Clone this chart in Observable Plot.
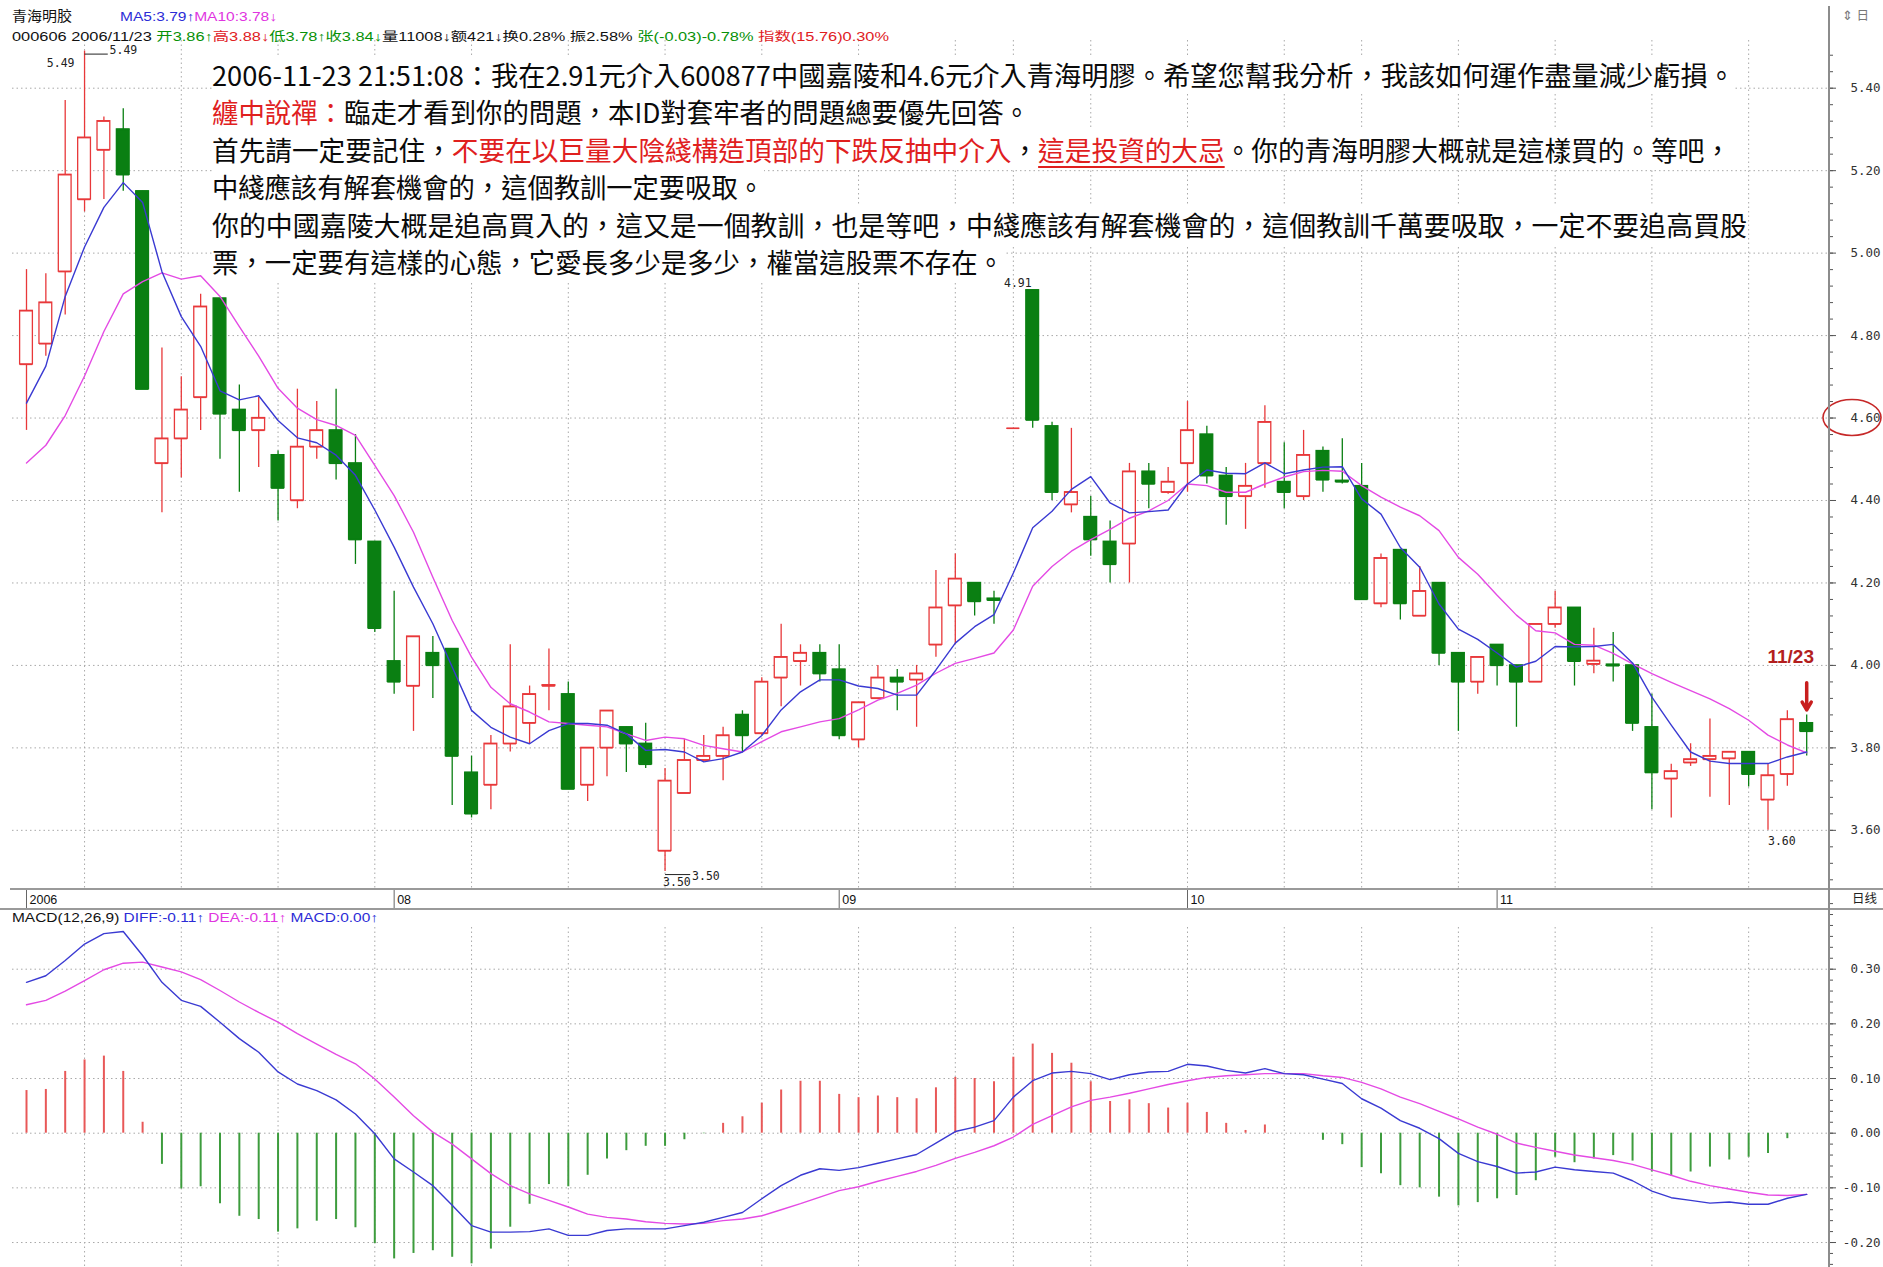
<!DOCTYPE html>
<html>
<head>
<meta charset="utf-8">
<script src="https://cdn.jsdelivr.net/npm/d3@7"></script>
<script src="https://cdn.jsdelivr.net/npm/@observablehq/plot@0.6"></script>
<style>
  html, body { margin:0; padding:0; background:#fff; }
  #root { position:relative; width:1883px; height:1267px; overflow:hidden; background:#fff; }
  .abs { position:absolute; white-space:nowrap; }
  .hdr { font-family:"Liberation Sans Narrow","Liberation Sans","Noto Sans CJK SC",sans-serif; font-size:12.5px; line-height:14px; transform-origin:0 50%; }
  .note { font-family:"Noto Sans CJK TC","Noto Sans CJK SC",sans-serif; font-size:27px; color:#0a0a0a; }
  .note div { height:37.6px; line-height:37.6px; white-space:nowrap; transform-origin:0 50%; width:max-content; }
  .note div span.bg { background:#fff; }
  .r { color:#e0201e; }
  .u { text-decoration:underline; text-underline-offset:5px; text-decoration-thickness:2px; }
  #root svg { position:absolute; left:0; }
</style>
</head>
<body>
<div id="root"></div>
<script>
// ---------- data ----------
const dateLabels = ["2006", "08", "09", "10", "11"];
const dateIndex  = [0, 19, 42, 60, 76];
const gridIndex  = [3, 8, 13, 18, 23, 28, 33, 38, 43, 48, 51, 55, 60, 65, 69, 74, 79, 84, 89];
const priceTicks = [3.6, 3.8, 4.0, 4.2, 4.4, 4.6, 4.8, 5.0, 5.2, 5.4];
const macdTicks  = [-0.2, -0.1, 0, 0.1, 0.2, 0.3];

const open = [4.73,4.78,4.955,5.13,5.25,5.30,5.15,4.49,4.55,4.65,
  4.89,4.62,4.57,4.51,4.40,4.53,4.57,4.49,4.30,4.01,
  3.95,4.03,4.04,3.74,3.71,3.81,3.86,3.95,3.93,3.71,
  3.80,3.85,3.81,3.55,3.69,3.77,3.78,3.88,3.835,3.97,
  4.01,4.03,3.99,3.82,3.92,3.97,3.965,4.05,4.145,4.20,
  4.162,4.575,4.91,4.58,4.39,4.36,4.30,4.295,4.47,4.42,
  4.49,4.56,4.46,4.41,4.49,4.445,4.41,4.52,4.448,4.435,
  4.15,4.28,4.12,4.20,4.03,3.96,4.05,4.00,3.96,4.10,
  4.14,4.003,4.002,4.00,3.85,3.725,3.764,3.772,3.774,3.79,
  3.674,3.736,3.86];
const high = [4.96,4.95,5.37,5.49,5.33,5.35,5.15,4.77,4.70,4.90,
  4.89,4.68,4.65,4.52,4.67,4.64,4.67,4.56,4.30,4.18,
  4.07,4.07,4.04,3.78,3.83,4.05,3.95,4.04,3.96,3.80,
  3.89,3.85,3.86,3.75,3.82,3.83,3.85,3.89,3.97,4.10,
  4.05,4.05,4.05,3.91,4.00,3.99,4.00,4.23,4.27,4.20,
  4.18,4.575,4.91,4.59,4.575,4.41,4.35,4.49,4.49,4.48,
  4.64,4.58,4.48,4.49,4.63,4.54,4.57,4.53,4.55,4.49,
  4.27,4.28,4.24,4.20,4.03,4.02,4.05,4.00,4.10,4.18,
  4.14,4.09,4.08,4.00,3.93,3.76,3.81,3.87,3.79,3.79,
  3.76,3.89,3.88];
const low = [4.57,4.75,4.85,5.10,5.13,5.15,4.67,4.37,4.455,4.57,
  4.50,4.42,4.48,4.35,4.38,4.50,4.45,4.245,4.08,3.93,
  3.84,3.92,3.66,3.63,3.65,3.79,3.81,3.89,3.70,3.67,
  3.73,3.74,3.75,3.50,3.69,3.77,3.72,3.79,3.83,3.90,
  3.95,3.96,3.82,3.80,3.92,3.89,3.85,4.02,4.05,4.12,
  4.10,4.575,4.575,4.40,4.37,4.265,4.20,4.20,4.38,4.415,
  4.42,4.44,4.34,4.33,4.43,4.38,4.40,4.42,4.44,4.16,
  4.14,4.11,4.12,4.00,3.84,3.93,3.95,3.85,3.96,4.09,
  3.95,3.98,3.96,3.84,3.65,3.63,3.755,3.68,3.66,3.705,
  3.60,3.707,3.78];
const close = [4.86,4.88,5.19,5.28,5.32,5.19,4.67,4.55,4.62,4.87,
  4.61,4.57,4.60,4.43,4.53,4.57,4.49,4.305,4.09,3.96,
  4.07,4.00,3.78,3.64,3.81,3.90,3.93,3.952,3.70,3.80,
  3.89,3.81,3.76,3.72,3.77,3.78,3.83,3.83,3.96,4.02,
  4.03,3.98,3.83,3.91,3.97,3.96,3.98,4.14,4.21,4.155,
  4.158,4.575,4.595,4.42,4.42,4.305,4.245,4.47,4.44,4.445,
  4.57,4.46,4.41,4.435,4.59,4.42,4.51,4.45,4.445,4.16,
  4.26,4.15,4.18,4.03,3.96,4.02,4.00,3.96,4.10,4.14,
  4.01,4.011,3.999,3.86,3.74,3.743,3.772,3.78,3.79,3.736,
  3.733,3.869,3.84];
const ma5 = [4.636,4.726,4.895,5.015,5.111,5.171,5.123,4.955,4.846,4.774,
  4.666,4.644,4.654,4.594,4.552,4.540,4.510,4.461,4.377,4.287,
  4.190,4.101,3.996,3.891,3.850,3.826,3.810,3.842,3.859,3.859,
  3.855,3.834,3.794,3.796,3.790,3.766,3.774,3.790,3.830,3.892,
  3.936,3.965,3.965,3.950,3.944,3.928,3.928,3.989,4.054,4.094,
  4.123,4.224,4.334,4.374,4.427,4.458,4.394,4.370,4.373,4.377,
  4.440,4.474,4.466,4.465,4.491,4.465,4.474,4.481,4.482,4.404,
  4.367,4.286,4.238,4.149,4.088,4.063,4.030,3.996,4.010,4.046,
  4.045,4.046,4.051,4.006,3.923,3.855,3.790,3.768,3.762,3.762,
  3.762,3.778,3.790];
const ma10 = [4.491,4.534,4.606,4.702,4.810,4.901,4.931,4.952,4.937,4.945,
  4.895,4.822,4.750,4.672,4.624,4.596,4.582,4.558,4.485,4.412,
  4.323,4.214,4.109,4.020,3.947,3.907,3.887,3.863,3.859,3.855,
  3.851,3.834,3.818,3.826,3.822,3.806,3.798,3.790,3.815,3.839,
  3.851,3.863,3.871,3.892,3.916,3.932,3.952,3.981,4.005,4.017,
  4.030,4.086,4.192,4.240,4.277,4.305,4.330,4.357,4.375,4.400,
  4.440,4.436,4.420,4.420,4.440,4.457,4.470,4.473,4.471,4.436,
  4.408,4.384,4.363,4.327,4.262,4.221,4.170,4.122,4.084,4.079,
  4.051,4.049,4.029,4.004,3.980,3.959,3.939,3.919,3.895,3.867,
  3.831,3.807,3.788];
const diff = [0.276,0.288,0.316,0.346,0.365,0.369,0.325,0.276,0.243,0.232,
  0.203,0.173,0.148,0.112,0.090,0.078,0.061,0.035,-0.001,-0.047,
  -0.071,-0.096,-0.132,-0.169,-0.181,-0.181,-0.180,-0.175,-0.187,-0.187,
  -0.178,-0.175,-0.175,-0.175,-0.169,-0.163,-0.154,-0.145,-0.120,-0.096,
  -0.077,-0.065,-0.068,-0.063,-0.055,-0.047,-0.039,-0.018,0.003,0.011,
  0.023,0.066,0.096,0.110,0.113,0.109,0.098,0.107,0.112,0.113,
  0.126,0.123,0.115,0.110,0.118,0.109,0.107,0.099,0.091,0.063,
  0.046,0.023,0.009,-0.010,-0.037,-0.052,-0.061,-0.073,-0.071,-0.062,
  -0.067,-0.070,-0.073,-0.087,-0.106,-0.118,-0.123,-0.128,-0.126,-0.130,
  -0.130,-0.119,-0.112];
const dea = [0.235,0.243,0.260,0.279,0.299,0.311,0.313,0.304,0.295,0.281,
  0.261,0.240,0.221,0.203,0.182,0.163,0.144,0.127,0.099,0.066,
  0.032,0.002,-0.020,-0.047,-0.074,-0.096,-0.111,-0.123,-0.135,-0.148,
  -0.154,-0.157,-0.162,-0.165,-0.166,-0.165,-0.160,-0.157,-0.151,-0.140,
  -0.129,-0.117,-0.105,-0.098,-0.088,-0.079,-0.070,-0.059,-0.046,-0.035,
  -0.023,-0.007,0.016,0.032,0.048,0.060,0.066,0.073,0.081,0.089,
  0.096,0.102,0.105,0.107,0.109,0.109,0.109,0.105,0.102,0.093,
  0.081,0.066,0.054,0.040,0.026,0.011,-0.002,-0.018,-0.026,-0.033,
  -0.040,-0.045,-0.050,-0.057,-0.067,-0.077,-0.088,-0.096,-0.102,-0.108,
  -0.113,-0.114,-0.112];
const macd = [0.078,0.080,0.113,0.134,0.141,0.113,0.020,-0.057,-0.102,-0.098,
  -0.129,-0.152,-0.158,-0.181,-0.175,-0.161,-0.158,-0.173,-0.202,-0.230,
  -0.220,-0.215,-0.227,-0.239,-0.212,-0.172,-0.130,-0.094,-0.098,-0.077,
  -0.047,-0.032,-0.024,-0.024,-0.012,-0.001,0.018,0.030,0.055,0.079,
  0.095,0.095,0.071,0.065,0.068,0.065,0.063,0.083,0.102,0.100,
  0.094,0.139,0.163,0.146,0.128,0.094,0.058,0.061,0.054,0.046,
  0.055,0.038,0.018,0.005,0.015,0.000,0.000,-0.013,-0.021,-0.063,
  -0.074,-0.096,-0.100,-0.117,-0.133,-0.127,-0.120,-0.114,-0.087,-0.044,
  -0.054,-0.047,-0.041,-0.051,-0.071,-0.079,-0.071,-0.062,-0.049,-0.044,
  -0.037,-0.010,0.000];

// ---------- styles ----------
const RED = "#e8383a", GREEN = "#0a7f12", BLUE = "#3a3ad2", MAG = "#e44ae4";
const BAR_RED = "#e85858", BAR_GREEN = "#3d9c3d", GRID = "#a9a9a9", AXIS = "#555";
const MONO = "DejaVu Sans Mono";

const root = document.getElementById("root");
const N = close.length;
const idx = d3.range(N);
const X0 = 26, STEP = 19.35;
const xOpt = {type: "linear", domain: [0, N - 1], range: [X0, X0 + STEP * (N - 1)], axis: null};
const candles = idx.map(i => ({i, o: open[i], h: high[i], l: low[i], c: close[i], up: close[i] >= open[i]}));
const col = d => d.up ? RED : GREEN;
const HW = 0.33;
const minorPrice = d3.range(0, 51).map(k => +(3.48 + k * 0.04).toFixed(2));
const minorMacd = d3.range(0, 34).map(k => +(-0.24 + k * 0.02).toFixed(2));
const lbl = {fontFamily: MONO, fontSize: 11.5, fill: "#222"};
const axLbl = {frameAnchor: "right", textAnchor: "end", dx: 51, fontSize: 12.5, fontFamily: MONO, fill: "#333"};

// ---------- price panel ----------
const price = Plot.plot({
  width: 1883, height: 890, marginLeft: 12, marginRight: 54, marginTop: 40, marginBottom: 1,
  style: {background: "transparent", overflow: "visible"},
  color: {type: "identity"},
  x: xOpt,
  y: {domain: [3.4565, 5.5157], range: [889, 40], axis: null},
  marks: [
    Plot.ruleY(priceTicks, {y: d => d, stroke: GRID, strokeDasharray: "1.5,3"}),
    Plot.ruleX(gridIndex, {x: d => d, stroke: GRID, strokeDasharray: "1.5,3"}),
    Plot.axisY({ticks: minorPrice, anchor: "right", tickSize: 3, tickFormat: () => "", color: AXIS}),
    Plot.axisY({ticks: priceTicks, anchor: "right", tickSize: 6, tickFormat: () => "", color: AXIS}),
    Plot.text(priceTicks, {y: d => d, text: d => d.toFixed(2), ...axLbl}),
    Plot.ruleX(candles, {x: "i", y1: "l", y2: "h", stroke: col, strokeWidth: 1.3}),
    Plot.rect(candles, {x1: d => d.i - HW, x2: d => d.i + HW, y1: d => Math.min(d.o, d.c), y2: d => Math.max(d.o, d.c),
      fill: d => d.up ? "#ffffff" : GREEN, stroke: col, strokeWidth: 1.3}),
    Plot.ruleY(candles, {y: "o", x1: d => d.i - HW, x2: d => d.i + HW, stroke: col, strokeWidth: 1.4}),
    Plot.ruleY(candles, {y: "c", x1: d => d.i - HW, x2: d => d.i + HW, stroke: col, strokeWidth: 1.4}),
    Plot.line(idx, {x: d => d, y: d => ma10[d], stroke: MAG, strokeWidth: 1.4}),
    Plot.line(idx, {x: d => d, y: d => ma5[d], stroke: BLUE, strokeWidth: 1.4}),
    // extreme labels
    Plot.text([3], {x: d => d, y: d => high[d], text: d => high[d].toFixed(2), textAnchor: "end", dx: -10, dy: 12, ...lbl}),
    Plot.text([3], {x: d => d, y: d => high[d], text: d => high[d].toFixed(2), textAnchor: "start", dx: 25, dy: -1, ...lbl}),
    Plot.link([3], {x1: d => d, y1: d => high[d], x2: d => d + 1.2, y2: d => high[d], stroke: "#222", dy: 3}),
    Plot.text([52], {x: d => d, y: d => high[d], text: d => high[d].toFixed(2), textAnchor: "end", dx: -1, dy: -7, ...lbl}),
    Plot.text([33], {x: d => d, y: d => low[d], text: d => low[d].toFixed(2), textAnchor: "start", dx: -2, dy: 11, ...lbl}),
    Plot.text([33], {x: d => d, y: d => low[d], text: d => low[d].toFixed(2), textAnchor: "start", dx: 27, dy: 5, ...lbl}),
    Plot.link([33], {x1: d => d, y1: d => low[d], x2: d => d + 1.3, y2: d => low[d], stroke: "#222", dy: 3}),
    Plot.text([90], {x: d => d, y: d => low[d], text: d => low[d].toFixed(2), textAnchor: "start", dx: 0, dy: 11, ...lbl}),
    // 11/23 annotation
    Plot.text([N - 1], {x: d => d, y: d => high[d], text: () => "11/23", dx: -16, dy: -58, fontSize: 19,
      fontWeight: "bold", fill: "#b31e1e", fontFamily: "Liberation Sans"}),
    Plot.arrow([N - 1], {x1: d => d, x2: d => d, y1: d => high[d] + 0.078, y2: d => high[d] + 0.012,
      stroke: "#c81e1e", strokeWidth: 3.5, headLength: 10})
  ]
});
price.style.top = "0px";
root.appendChild(price);
// red ellipse around the 4.60 axis label
d3.select(price).append("ellipse")
  .attr("cx", 1852).attr("cy", price.scale("y").apply(4.6)).attr("rx", 29).attr("ry", 18)
  .attr("fill", "none").attr("stroke", "#c62828").attr("stroke-width", 1.6);

// ---------- date row ----------
const dateRow = Plot.plot({
  width: 1883, height: 20, marginLeft: 12, marginRight: 54, marginTop: 0, marginBottom: 0,
  style: {background: "transparent", overflow: "visible"},
  x: xOpt,
  marks: [
    Plot.ruleX(dateIndex, {x: d => d, stroke: "#666"}),
    Plot.text(dateIndex, {x: d => d, text: (d, k) => dateLabels[k], frameAnchor: "middle", textAnchor: "start",
      dx: 3, fontSize: 12.5, fontFamily: "Liberation Sans", fill: "#111"})
  ]
});
dateRow.style.top = "889px";
root.appendChild(dateRow);

// ---------- MACD panel ----------
const macdPlot = Plot.plot({
  width: 1883, height: 358, marginLeft: 12, marginRight: 54, marginTop: 18, marginBottom: 0,
  style: {background: "transparent", overflow: "visible"},
  color: {type: "identity"},
  x: xOpt,
  y: {domain: [-0.2457, 0.4092], range: [358, 0], axis: null},
  marks: [
    Plot.ruleY(macdTicks, {y: d => d, stroke: GRID, strokeDasharray: "1.5,3"}),
    Plot.ruleX(gridIndex, {x: d => d, stroke: GRID, strokeDasharray: "1.5,3"}),
    Plot.axisY({ticks: minorMacd, anchor: "right", tickSize: 3, tickFormat: () => "", color: AXIS}),
    Plot.axisY({ticks: macdTicks, anchor: "right", tickSize: 6, tickFormat: () => "", color: AXIS}),
    Plot.text(macdTicks, {y: d => d, text: d => d.toFixed(2), ...axLbl}),
    Plot.ruleX(idx, {x: d => d, y1: 0, y2: d => macd[d], stroke: d => macd[d] >= 0 ? BAR_RED : BAR_GREEN, strokeWidth: 2}),
    Plot.line(idx, {x: d => d, y: d => dea[d], stroke: MAG, strokeWidth: 1.4}),
    Plot.line(idx, {x: d => d, y: d => diff[d], stroke: BLUE, strokeWidth: 1.4})
  ]
});
macdPlot.style.top = "909px";
root.appendChild(macdPlot);

// ---------- frame lines ----------
function line(l, t, w, h, c) {
  const d = document.createElement("div");
  d.className = "abs";
  Object.assign(d.style, {left: l + "px", top: t + "px", width: w + "px", height: h + "px", background: c});
  root.appendChild(d);
}
line(10, 888, 1873, 2, "#9a9a9a");
line(0, 908, 1883, 2, "#9a9a9a");
line(1828, 6, 2, 1261, "#8c8c8c");

// ---------- texts ----------
function txt(html, left, centerY, cls, targetW) {
  const d = document.createElement("div");
  d.className = "abs " + cls;
  d.innerHTML = html;
  d.style.left = left + "px";
  d.style.top = (centerY - 7) + "px";
  root.appendChild(d);
  if (targetW) {
    const w = d.getBoundingClientRect().width;
    d.style.transform = `scaleX(${targetW / w})`;
  }
  return d;
}
const G = "#079107", R = "#e0201e", K = "#111";
txt(`<span style="color:${K};font-size:13.5px">青海明胶</span>`, 12, 17, "hdr", 60);
txt(`<span style="color:#2b2bd6">MA5:3.79↑</span><span style="color:#e034e0">MA10:3.78↓</span>`, 120, 17, "hdr", 157);
txt(`<span style="color:${K}">000606 2006/11/23 </span><span style="color:${G}">开3.86↑</span><span style="color:${R}">高3.88↓</span><span style="color:${G}">低3.78↑收3.84↓</span><span style="color:${K}">量11008↓额421↓换0.28% 振2.58% </span><span style="color:${G}">张(-0.03)-0.78% </span><span style="color:${R}">指数(15.76)0.30%</span>`, 12, 37, "hdr", 877);
txt(`<span style="color:${K}">MACD(12,26,9) </span><span style="color:#2b2bd6">DIFF:-0.11↑ </span><span style="color:#e034e0">DEA:-0.11↑ </span><span style="color:#2b2bd6">MACD:0.00↑</span>`, 12, 918, "hdr", 366);
txt(`<span style="color:#222">日线</span>`, 1852, 899, "hdr", 0);
txt(`<span style="color:#777">⇕ 日</span>`, 1842, 16, "hdr", 0);

// annotation block
const noteLines = [
  `<span class="bg">2006-11-23 21:51:08：我在2.91元介入600877中國嘉陵和4.6元介入青海明膠。希望您幫我分析，我該如何運作盡量減少虧損。</span>`,
  `<span class="bg"><span class="r">纏中說禪：</span>臨走才看到你的問題，本ID對套牢者的問題總要優先回答。</span>`,
  `<span class="bg">首先請一定要記住，<span class="r">不要在以巨量大陰綫構造頂部的下跌反抽中介入</span>，<span class="r u">這是投資的大忌</span>。你的青海明膠大概就是這樣買的。等吧，</span>`,
  `<span class="bg">中綫應該有解套機會的，這個教訓一定要吸取。</span>`,
  `<span class="bg">你的中國嘉陵大概是追高買入的，這又是一個教訓，也是等吧，中綫應該有解套機會的，這個教訓千萬要吸取，一定不要追高買股</span>`,
  `<span class="bg">票，一定要有這樣的心態，它愛長多少是多少，權當這股票不存在。</span>`
];
const noteWidths = [1523, 818, 1519, 552, 1535, 792];
const note = document.createElement("div");
note.className = "abs note";
note.style.left = "212px";
note.style.top = "55.5px";
note.innerHTML = noteLines.map(s => `<div>${s}</div>`).join("");
root.appendChild(note);
Array.from(note.children).forEach((el, k) => {
  const w = el.getBoundingClientRect().width;
  const s = Math.max(0.97, Math.min(1.04, noteWidths[k] / w));
  el.style.transform = `scaleX(${s})`;
});
</script>
</body>
</html>
